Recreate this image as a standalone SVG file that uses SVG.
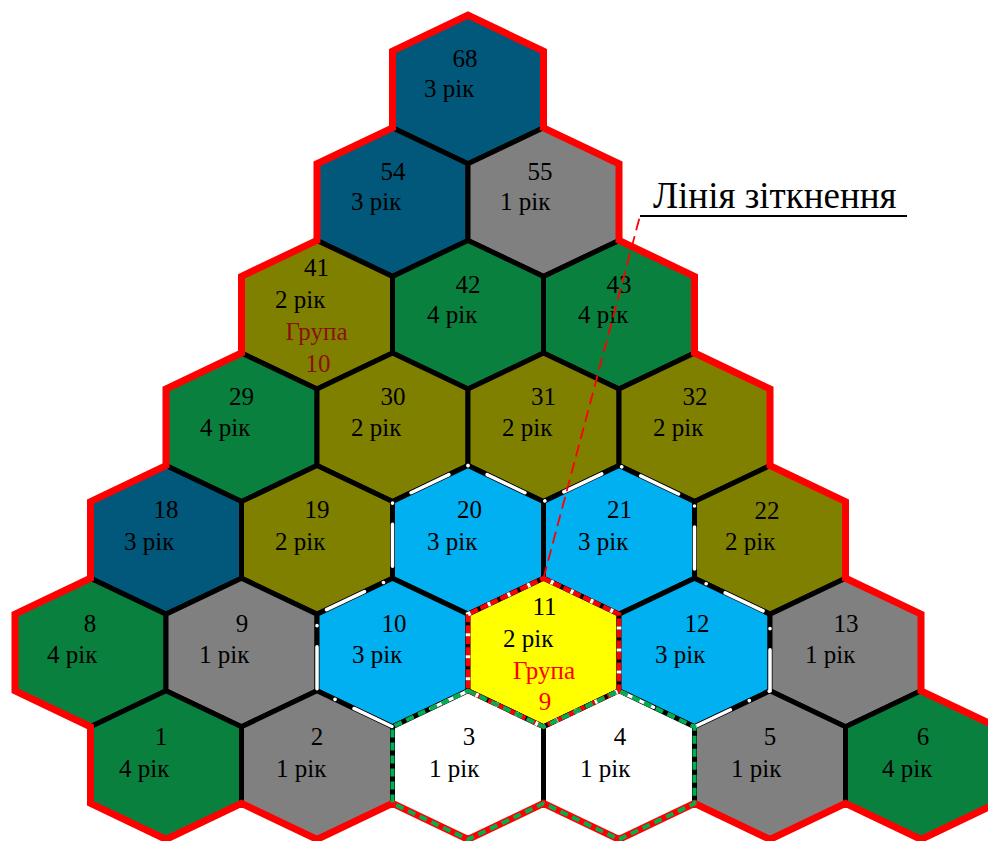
<svg xmlns="http://www.w3.org/2000/svg" width="988" height="841" viewBox="0 0 988 841">
<style>
.hex{stroke:#000;stroke-width:5;stroke-linejoin:miter}
.navy{fill:#01587A}
.green{fill:#0A803E}
.gray{fill:#808080}
.olive{fill:#808000}
.blue{fill:#00B0F0}
.yellow{fill:#FFFF00}
.white{fill:#FFFFFF}
text{font-family:"Liberation Serif","Times New Roman",serif;font-size:25px;fill:#000}
.n{text-anchor:middle}
.g10{fill:#8B1010;text-anchor:middle}
.g9{fill:#FF0000;text-anchor:middle}
.label{font-size:37px}
.outline{fill:none;stroke:#FF0000;stroke-width:7;stroke-linejoin:miter}
.wdash{fill:none;stroke:#FFFFFF;stroke-width:3.5;stroke-linecap:round;stroke-dasharray:0.1 21 42 22}
.r11{fill:none;stroke:#FF0000;stroke-width:4.5;stroke-dasharray:8 3}
.w11{fill:none;stroke:#FFFFFF;stroke-width:4.5;stroke-dasharray:3 19;stroke-dashoffset:-8}
.gdash{fill:none;stroke:#00B050;stroke-width:4;stroke-dasharray:8 5}
</style>
<defs>
<polygon id="hx" points="0,-74.3 75.5,-38.3 75.5,38.3 0,74.3 -75.5,38.3 -75.5,-38.3"/>
</defs>

<g id="hex-68"><use href="#hx" x="468" y="89.5" class="hex navy"/><text class="n" x="465" y="67">68</text><text x="424" y="97">3 рік</text></g>
<g id="hex-54"><use href="#hx" x="392.5" y="202.1" class="hex navy"/><text class="n" x="393" y="180">54</text><text x="351" y="210">3 рік</text></g>
<g id="hex-55"><use href="#hx" x="543.5" y="202.1" class="hex gray"/><text class="n" x="540" y="180">55</text><text x="500" y="210">1 рік</text></g>

<g id="hex-41"><use href="#hx" x="317" y="314.7" class="hex olive"/><text class="n" x="316.5" y="276">41</text><text x="275" y="308">2 рік</text><text class="g10" x="316.5" y="340">Група</text><text class="g10" x="318" y="372">10</text></g>
<g id="hex-42"><use href="#hx" x="468" y="314.7" class="hex green"/><text class="n" x="468" y="293">42</text><text x="427" y="323">4 рік</text></g>
<g id="hex-43"><use href="#hx" x="619" y="314.7" class="hex green"/><text class="n" x="619" y="293">43</text><text x="578" y="323">4 рік</text></g>

<g id="hex-29"><use href="#hx" x="241.5" y="427.3" class="hex green"/><text class="n" x="241.5" y="405">29</text><text x="200" y="436">4 рік</text></g>
<g id="hex-30"><use href="#hx" x="392.5" y="427.3" class="hex olive"/><text class="n" x="393" y="405">30</text><text x="351" y="436">2 рік</text></g>
<g id="hex-31"><use href="#hx" x="543.5" y="427.3" class="hex olive"/><text class="n" x="543.5" y="405">31</text><text x="502" y="436">2 рік</text></g>
<g id="hex-32"><use href="#hx" x="694.5" y="427.3" class="hex olive"/><text class="n" x="695" y="405">32</text><text x="653" y="436">2 рік</text></g>

<g id="hex-18"><use href="#hx" x="166" y="539.9" class="hex navy"/><text class="n" x="166" y="518">18</text><text x="124" y="550">3 рік</text></g>
<g id="hex-19"><use href="#hx" x="317" y="539.9" class="hex olive"/><text class="n" x="317" y="518">19</text><text x="275" y="550">2 рік</text></g>
<g id="hex-20"><use href="#hx" x="468" y="539.9" class="hex blue"/><text class="n" x="469.5" y="518">20</text><text x="427" y="550">3 рік</text></g>
<g id="hex-21"><use href="#hx" x="619" y="539.9" class="hex blue"/><text class="n" x="619.5" y="518">21</text><text x="578" y="550">3 рік</text></g>
<g id="hex-22"><use href="#hx" x="770" y="539.9" class="hex olive"/><text class="n" x="767" y="519">22</text><text x="725" y="550">2 рік</text></g>

<g id="hex-8"><use href="#hx" x="90.5" y="652.5" class="hex green"/><text class="n" x="90" y="632">8</text><text x="47" y="663">4 рік</text></g>
<g id="hex-9"><use href="#hx" x="241.5" y="652.5" class="hex gray"/><text class="n" x="242" y="632">9</text><text x="199" y="663">1 рік</text></g>
<g id="hex-10"><use href="#hx" x="392.5" y="652.5" class="hex blue"/><text class="n" x="394" y="632">10</text><text x="352" y="663">3 рік</text></g>
<g id="hex-11"><use href="#hx" x="543.5" y="652.5" class="hex yellow"/><text class="n" x="544.5" y="615">11</text><text x="503" y="647">2 рік</text><text class="g9" x="544" y="679">Група</text><text class="g9" x="545" y="710">9</text></g>
<g id="hex-12"><use href="#hx" x="694.5" y="652.5" class="hex blue"/><text class="n" x="697" y="632">12</text><text x="655" y="663">3 рік</text></g>
<g id="hex-13"><use href="#hx" x="845.5" y="652.5" class="hex gray"/><text class="n" x="846" y="632">13</text><text x="805" y="663">1 рік</text></g>

<g id="hex-1"><use href="#hx" x="166" y="765.1" class="hex green"/><text class="n" x="161" y="745">1</text><text x="119" y="777">4 рік</text></g>
<g id="hex-2"><use href="#hx" x="317" y="765.1" class="hex gray"/><text class="n" x="317" y="745">2</text><text x="276" y="777">1 рік</text></g>
<g id="hex-3"><use href="#hx" x="468" y="765.1" class="hex white"/><text class="n" x="469" y="745">3</text><text x="429" y="777">1 рік</text></g>
<g id="hex-4"><use href="#hx" x="619" y="765.1" class="hex white"/><text class="n" x="620" y="745">4</text><text x="580" y="777">1 рік</text></g>
<g id="hex-5"><use href="#hx" x="770" y="765.1" class="hex gray"/><text class="n" x="770" y="745">5</text><text x="731" y="777">1 рік</text></g>
<g id="hex-6"><use href="#hx" x="921" y="765.1" class="hex green"/><text class="n" x="923" y="745">6</text><text x="882" y="777">4 рік</text></g>

<g id="borders">
<path class="outline" d="M468,15.2 L543.5,51.2 L543.5,127.8 L619,163.8 L619,240.4 L694.5,276.4 L694.5,353 L770,389 L770,465.6 L845.5,501.6 L845.5,578.2 L921,614.2 L921,690.8 L996.5,726.8 L996.5,803.4 L921,839.4 L845.5,803.4 L770,839.4 L694.5,803.4 L619,839.4 L543.5,803.4 L468,839.4 L392.5,803.4 L317,839.4 L241.5,803.4 L166,839.4 L90.5,803.4 L90.5,726.8 L15,690.8 L15,614.2 L90.5,578.2 L90.5,501.6 L166,465.6 L166,389 L241.5,353 L241.5,276.4 L317,240.4 L317,163.8 L392.5,127.8 L392.5,51.2 Z"/>
<path class="wdash" d="M468,465.6 L543.5,501.6 L619,465.6 L694.5,501.6 L694.5,578.2 L770,614.2 L770,690.8 L694.5,726.8 L619,690.8 M468,465.6 L392.5,501.6 L392.5,578.2 L317,614.2 L317,690.8 L392.5,726.8 L468,690.8"/>
<path class="r11" d="M543.5,578.2 L619,614.2 L619,690.8 L543.5,726.8 L468,690.8 L468,614.2 Z"/>
<path class="w11" d="M543.5,578.2 L619,614.2 L619,690.8 L543.5,726.8 L468,690.8 L468,614.2 Z"/>
<path class="gdash" d="M468,690.8 L543.5,726.8 L619,690.8 L694.5,726.8 L694.5,803.4 L619,839.4 L543.5,803.4 L468,839.4 L392.5,803.4 L392.5,726.8 Z"/>
</g>

<g id="connectors">
<path d="M543.5,578.2 L640,216" fill="none" stroke="#FF0000" stroke-width="1.8" stroke-dasharray="12 6"/>
<path d="M640,216 L907,216" fill="none" stroke="#000" stroke-width="2"/>
</g>
<g id="label-contact-line"><text class="label" x="653" y="208">Лінія зіткнення</text></g>
</svg>
